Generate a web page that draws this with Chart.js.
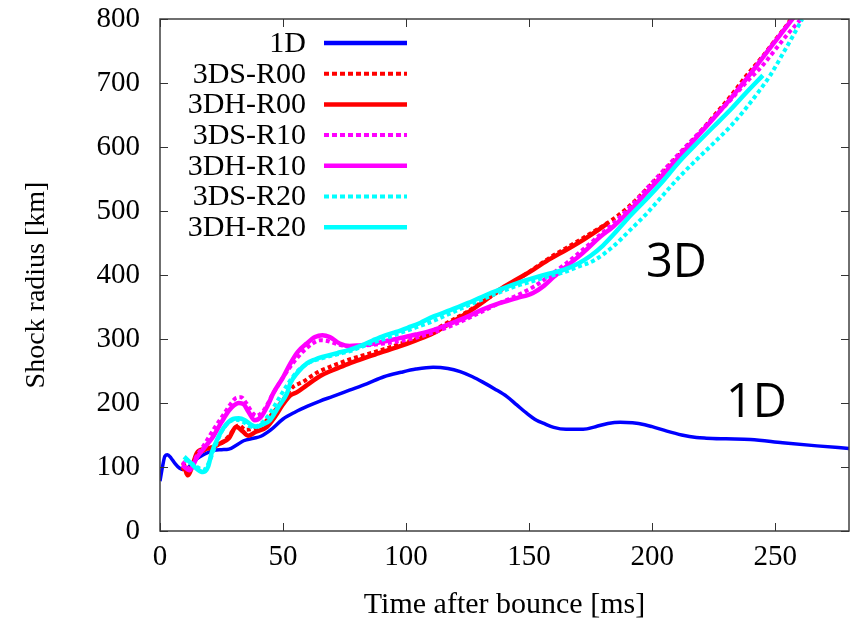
<!DOCTYPE html>
<html>
<head>
<meta charset="utf-8">
<script src="https://cdn.jsdelivr.net/npm/chart.js@4"></script>
<style>
html,body{margin:0;padding:0;background:#fff;}
canvas{display:block;}
</style>
</head>
<body>
<canvas id="c" width="854" height="625"></canvas>
<script>
// ---- data (time after bounce [ms], shock radius [km]) ----
const t1D  = [0,1,2,3,4.5,6,8,10,14,18,22,25,28,31,34,38,41,45,50,55,60,65,70,77,84,91,98,104,111,117,122,127,131,136,141,145,149,153,156,160,165,172,177,182,187,192,197,200,206,212,218,222,230,240,253,267,280];
const r1D  = [78,100,117,119,114,106,98,96,110,120,126,127,128,134,141,145,148,158,175,186,195,203,210,220,230,241,248,253,256,254,249,241,233,222,210,197,184,173,168,162,159,159,163,168,170,169,166,163,156,150,146,145,144,143,138,133,129];

const tS00 = [9,11,13,15,18,22,26,30,32,35,38,42,46,50,54,58,64,70,77,84,91,98,104,111,118,125,131,138,145,152,158,165,172,178,184,190,198,205,211,218,225,232,238,245,250,255,258];
const rS00 = [100,90,102,118,126,132,140,158,165,158,160,168,185,205,225,233,248,258,268,276,284,293,300,313,328,343,358,375,392,410,426,442,458,472,487,505,535,563,588,617,648,680,710,742,767,792,810];

const tH00 = [9.5,11.4,13,15,18,21.5,25,28,31,33.5,35.8,39,43.5,47,50,53,55.7,59.7,66,72,77,83,89,97,104,111,118,125,131,138,144,151.6,158,165,172,178,182];
const rH00 = [106,87,100,122,128,131,138,145,163,156,149,155,163,180,198,212,217,228,244,254,262,270,278,288,298,309,325,341,357,377,391,408,424,439,455,470,481];

const tS10 = [9,12,15,18,22,26,29,31,33,35,37,39,42,46,50,54,58,62,65,68,72,77,84,91,98,104,111,118,125,131,138,145,152,158,165,172,178,184,192,198,205,211,218,225,232,238,245,250,255,260,262];
const rS10 = [108,98,118,135,160,183,200,208,209,200,188,180,188,215,240,262,280,293,298,297,292,288,290,293,297,302,310,320,332,343,356,368,382,398,418,440,460,480,510,536,565,590,618,646,674,700,728,752,776,798,808];

const tH10 = [9,12,15,18,21.5,25,28,30,32,34,36,38.5,41,44,46,50,53,56,59.6,63,66,69,73,77,81,86,91,97,104,111,118,125,131,138,145,151.6,156,160,165,172,179,184,192,198,204,211,218,225,232,238,244,250,255,258];
const rH10 = [103,95,115,130,147,170,188,196,200,198,186,173,178,198,215,240,262,280,293,303,306,303,293,289,290,292,296,301,307,314,324,335,346,356,364,372,383,397,413,435,460,475,505,530,555,585,615,645,676,705,735,765,790,805];

const tS20 = [10,13,16,18,20,22,25,28,31,34,37,40,44,48,52,56,60,66,72,78,84,91,98,104,111,118,125,131,138,145,152,158,164,170,176,184,191,198,204,211,218,225,232,238,243,248,253,257,261];
const rS20 = [112,105,98,96,108,128,155,170,174,170,163,165,180,205,230,250,262,270,276,282,291,300,310,318,328,340,352,362,373,383,391,398,404,413,422,444,470,497,523,553,580,606,633,660,685,712,745,772,800];

const tH20 = [9.8,12,15,17.5,19.5,21,23.5,25.8,29.7,32,34.5,37,39,42,44.7,48,51.6,53,56,59.7,63,66,72,77,82,86.6,91,96,101,105.7,111,118,125,131,138,145,151.6,158,164,170,175,180,184,190,198,204,211,218,225,232,238,245];
const rH20 = [116,108,97,92,100,122,145,161,175,176,173,166,163,167,173,193,215,231,248,262,268,272,278,283,290,298,305,311,318,325,335,345,356,366,377,387,395,402,408,418,430,446,462,488,520,545,577,605,632,659,684,712];

const seriesLabels = ['1D','3DS-R00','3DH-R00','3DS-R10','3DH-R10','3DS-R20','3DH-R20'];
const xTicks = [0,50,100,150,200,250];
const yTicks = [0,100,200,300,400,500,600,700,800];

// ---- styles ----
const colors = ['#0000ff','#ff0000','#ff0000','#ff00ff','#ff00ff','#00ffff','#00ffff'];
const dotted = [false,true,false,true,false,true,false];
const widths = [3.5,4,4.5,4,4.5,4,4.5];
const DASH = [4,3];

function pts(t, r){ return t.map((v,i)=>({x:v, y:r[i]})); }
const allData = [pts(t1D,r1D),pts(tS00,rS00),pts(tH00,rH00),pts(tS10,rS10),pts(tH10,rH10),pts(tS20,rS20),pts(tH20,rH20)];

const datasets = allData.map((d,i)=>({
  label: seriesLabels[i],
  data: d,
  borderColor: colors[i],
  backgroundColor: colors[i],
  borderWidth: widths[i],
  borderDash: dotted[i] ? DASH : [],
  borderCapStyle: 'butt',
  pointRadius: 0,
  fill: false,
  cubicInterpolationMode: 'monotone',
  order: 6 - i
}));

const SERIF = "'Liberation Serif','Times New Roman',serif";

const decor = {
  id: 'decor',
  afterDatasetsDraw(chart){
    const {ctx, chartArea:a, scales:{x, y}} = chart;
    ctx.save();
    // frame
    ctx.strokeStyle = '#404040';
    ctx.lineWidth = 1.5;
    ctx.strokeRect(a.left, a.top, a.right - a.left, a.bottom - a.top);
    // inward ticks on all four sides
    ctx.lineWidth = 1;
    ctx.strokeStyle = '#333';
    const TL = 8;
    ctx.beginPath();
    xTicks.forEach(v=>{
      const px = Math.round(x.getPixelForValue(v)) + 0.5;
      ctx.moveTo(px, a.bottom); ctx.lineTo(px, a.bottom - TL);
      ctx.moveTo(px, a.top); ctx.lineTo(px, a.top + TL);
    });
    yTicks.forEach(v=>{
      const py = Math.round(y.getPixelForValue(v)) + 0.5;
      ctx.moveTo(a.left, py); ctx.lineTo(a.left + TL, py);
      ctx.moveTo(a.right, py); ctx.lineTo(a.right - TL, py);
    });
    ctx.stroke();

    // legend (inside, top-left)
    const textRight = 306, lineL = 324, lineR = 407, top0 = 43, step = 30.7;
    ctx.font = '30px ' + SERIF;
    ctx.fillStyle = '#000';
    ctx.textAlign = 'right';
    ctx.textBaseline = 'middle';
    seriesLabels.forEach((lab,i)=>{
      const yy = top0 + i*step;
      ctx.fillText(lab, textRight, yy + 1);
      ctx.beginPath();
      ctx.strokeStyle = colors[i];
      ctx.lineWidth = dotted[i] ? 4 : 4.5;
      ctx.setLineDash(dotted[i] ? [5,3] : []);
      ctx.moveTo(lineL, yy); ctx.lineTo(lineR, yy);
      ctx.stroke();
    });
    ctx.setLineDash([]);

    // axis titles
    ctx.fillStyle = '#000';
    ctx.textAlign = 'center';
    ctx.textBaseline = 'middle';
    ctx.font = '30px ' + SERIF;
    ctx.fillText('Time after bounce [ms]', (a.left + a.right)/2, 605);
    ctx.save();
    ctx.translate(37, (a.top + a.bottom)/2 + 10);
    ctx.rotate(-Math.PI/2);
    ctx.font = '28px ' + SERIF;
    ctx.fillText('Shock radius [km]', 0, 0);
    ctx.restore();

    // annotations
    ctx.font = "47px 'Open Sans','Noto Sans',sans-serif";
    ctx.textAlign = 'left';
    ctx.textBaseline = 'alphabetic';
    ctx.fillText('3D', 646, 277);
    ctx.fillText('1D', 726, 417);
    ctx.restore();
  }
};

new Chart(document.getElementById('c'), {
  type: 'line',
  data: { datasets },
  plugins: [decor],
  options: {
    responsive: false,
    animation: false,
    devicePixelRatio: 1,
    layout: { padding: { top: 19, right: 5, left: 0, bottom: 0 } },
    plugins: { legend: { display: false }, tooltip: { enabled: false } },
    scales: {
      x: {
        type: 'linear',
        min: 0, max: 280,
        afterFit: s => { s.height = 94; s.paddingLeft = 0; s.paddingRight = 0; },
        grid: { display: false, drawTicks: false },
        border: { display: false },
        ticks: {
          stepSize: 50, includeBounds: false, maxRotation: 0, autoSkip: false,
          padding: 9, color: '#000',
          font: { family: SERIF, size: 29 }
        }
      },
      y: {
        type: 'linear',
        min: 0, max: 800,
        afterFit: s => { s.width = 160; s.paddingTop = 0; s.paddingBottom = 0; },
        grid: { display: false, drawTicks: false },
        border: { display: false },
        ticks: {
          stepSize: 100, includeBounds: false, autoSkip: false,
          padding: 20, color: '#000',
          font: { family: SERIF, size: 29 }
        }
      }
    }
  }
});
</script>
</body>
</html>
